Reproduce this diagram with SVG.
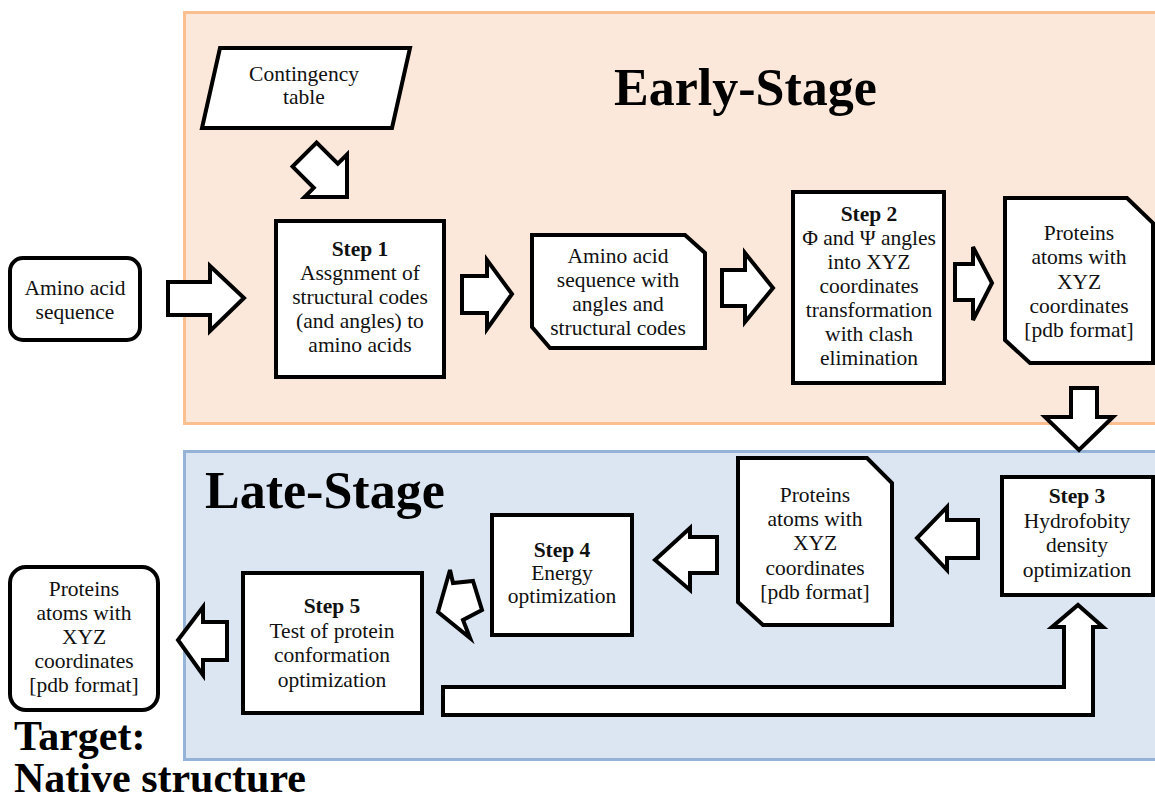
<svg xmlns="http://www.w3.org/2000/svg" width="1155" height="801" viewBox="0 0 1155 801">
<style>
.box{fill:#fff;stroke:#000;stroke-width:4}
.arrow{fill:#fff;stroke:#000;stroke-width:4;stroke-linejoin:miter}
.t{font-family:"Liberation Serif","Times New Roman",serif;font-size:21.5px;text-anchor:middle;fill:#111}
.b{font-weight:bold}
.title{font-family:"Liberation Serif","Times New Roman",serif;font-weight:bold;font-size:52px;fill:#000}
.big{font-family:"Liberation Serif","Times New Roman",serif;font-weight:bold;font-size:42px;fill:#000}
</style>
<rect width="1155" height="801" fill="#fff"/>
<g id="early-stage">
<rect x="184.5" y="12.5" width="1000" height="411" fill="#FCE8DA" stroke="#F9BF8E" stroke-width="3"/>
<text class="title" x="614" y="105">Early-Stage</text>
</g>
<g id="late-stage">
<rect x="184.5" y="451.5" width="1000" height="308" fill="#DCE6F2" stroke="#95B3D7" stroke-width="3"/>
<text class="title" x="205" y="508">Late-Stage</text>
</g>
<g id="connectors">
<polygon class="arrow" transform="translate(347,197) rotate(45)" points="0,0 -30,-30 -30,-17 -60,-17 -60,17 -30,17 -30,30"/>
<polygon class="arrow" points="168,282 210,282 210,266 244,298 210,331 210,315 168,315"/>
<polygon class="arrow" points="462,276 487,276 487,260 512,294 487,329 487,313 462,313"/>
<polygon class="arrow" points="722,270 745,270 745,253 773,288 745,322 745,306 722,306"/>
<polygon class="arrow" points="955,264 973,264 973,247 992,283 973,320 973,300 955,300"/>
<polygon class="arrow" points="1071,388 1097,388 1097,417 1113,417 1079,450 1045,417 1071,417"/>
<polygon class="arrow" points="978,520 947,520 947,507 917,538 947,570 947,558 978,558"/>
<polygon class="arrow" points="717,537 690,537 690,528 655,560 690,590 690,573 717,573"/>
<polygon class="arrow" points="438,612 450,570 453,583 473,581 482,610 463,620 470,638"/>
<polygon class="arrow" points="227,622 203,622 203,607 178,640 203,675 203,660 227,660"/>
<polygon class="arrow" points="443,687 1064,687 1064,627 1052,627 1078,605 1103,627 1093,627 1093,715 443,715"/>
</g>
<g id="contingency-table">
<polygon class="box" points="220,48 410,48 392,128 202,128"/>
<text class="t" x="304" y="81">Contingency</text>
<text class="t" x="304" y="104">table</text>
</g>
<g id="amino-acid-sequence">
<rect class="box" x="10" y="258" width="130" height="82" rx="13"/>
<text class="t" x="75" y="295">Amino acid</text>
<text class="t" x="75" y="319">sequence</text>
</g>
<g id="step1">
<rect class="box" x="276" y="221" width="168" height="156"/>
<text class="t b" x="360" y="256">Step 1</text>
<text class="t" x="360" y="280">Assgnment of</text>
<text class="t" x="360" y="304">structural codes</text>
<text class="t" x="360" y="328">(and angles) to</text>
<text class="t" x="360" y="352">amino acids</text>
</g>
<g id="sequence-with-angles">
<polygon class="box" points="532,235 685,235 705,253 705,348 550,348 532,327"/>
<text class="t" x="618" y="263">Amino acid</text>
<text class="t" x="618" y="287">sequence with</text>
<text class="t" x="618" y="311">angles and</text>
<text class="t" x="618" y="335">structural codes</text>
</g>
<g id="step2">
<rect class="box" x="793" y="192" width="151" height="191"/>
<text class="t b" x="869" y="221">Step 2</text>
<text class="t" x="869" y="245">Φ and Ψ angles</text>
<text class="t" x="869" y="269">into XYZ</text>
<text class="t" x="869" y="293">coordinates</text>
<text class="t" x="869" y="317">transformation</text>
<text class="t" x="869" y="341">with clash</text>
<text class="t" x="869" y="365">elimination</text>
</g>
<g id="proteins-xyz-early">
<polygon class="box" points="1005,198 1127,198 1153,223 1153,363 1030,363 1005,340"/>
<text class="t" x="1079" y="240">Proteins</text>
<text class="t" x="1079" y="264">atoms with</text>
<text class="t" x="1079" y="289">XYZ</text>
<text class="t" x="1079" y="313">coordinates</text>
<text class="t" x="1079" y="337">[pdb format]</text>
</g>
<g id="step3">
<rect class="box" x="1002" y="477" width="151" height="118"/>
<text class="t b" x="1077" y="503">Step 3</text>
<text class="t" x="1077" y="528">Hydrofobity</text>
<text class="t" x="1077" y="552">density</text>
<text class="t" x="1077" y="577">optimization</text>
</g>
<g id="proteins-xyz-late">
<polygon class="box" points="738,458 867,458 892,483 892,625 763,625 738,602"/>
<text class="t" x="815" y="502">Proteins</text>
<text class="t" x="815" y="526">atoms with</text>
<text class="t" x="815" y="550">XYZ</text>
<text class="t" x="815" y="575">coordinates</text>
<text class="t" x="815" y="599">[pdb format]</text>
</g>
<g id="step4">
<rect class="box" x="492" y="515" width="140" height="120"/>
<text class="t b" x="562" y="557">Step 4</text>
<text class="t" x="562" y="580">Energy</text>
<text class="t" x="562" y="603">optimization</text>
</g>
<g id="step5">
<rect class="box" x="243" y="573" width="179" height="140"/>
<text class="t b" x="332" y="613">Step 5</text>
<text class="t" x="332" y="638">Test of protein</text>
<text class="t" x="332" y="662">conformation</text>
<text class="t" x="332" y="687">optimization</text>
</g>
<g id="native-structure">
<rect class="box" x="10" y="567" width="148" height="143" rx="16"/>
<text class="t" x="84" y="596">Proteins</text>
<text class="t" x="84" y="620">atoms with</text>
<text class="t" x="84" y="644">XYZ</text>
<text class="t" x="84" y="668">coordinates</text>
<text class="t" x="84" y="692">[pdb format]</text>
</g>
<g id="target-label">
<text class="big" x="14" y="750">Target:</text>
<text class="big" x="14" y="792">Native structure</text>
</g>
</svg>
